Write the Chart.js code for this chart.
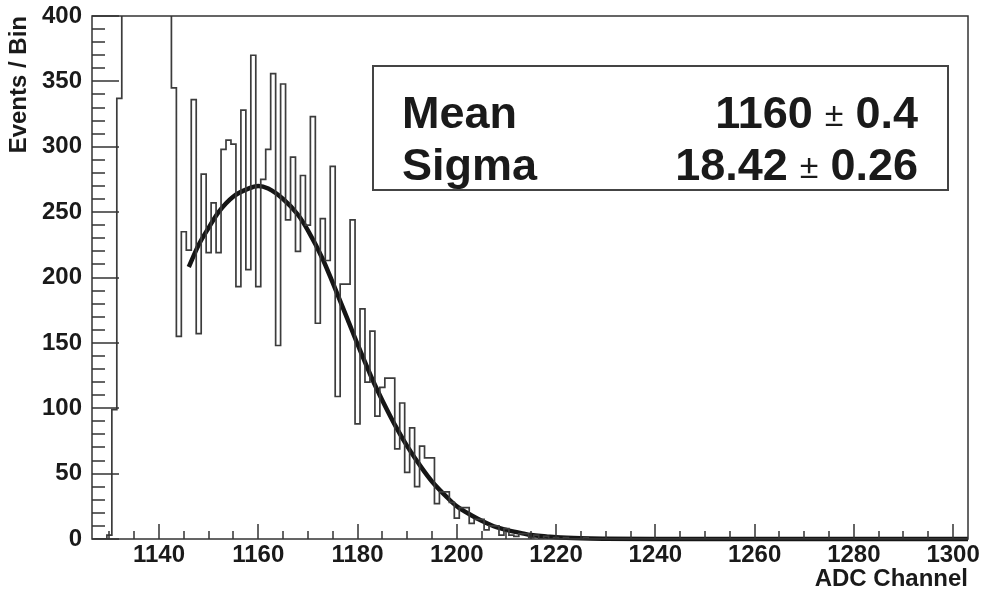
<!DOCTYPE html>
<html>
<head>
<meta charset="utf-8">
<script src="https://cdn.jsdelivr.net/npm/chart.js@4.4.1/dist/chart.umd.min.js"></script>
<style>
  html, body { margin: 0; padding: 0; background: #fff; }
</style>
</head>
<body>
<canvas id="adcChart" width="981" height="594"></canvas>
<script>
// one bin per ADC channel, first bin centred on channel 1127
const firstChannel = 1127;
const counts = [
    0, 0, 0, 3, 99, 337,
    // 1133 - 1142 : above the top of the frame
    450, 520, 590, 640, 660, 640, 600, 550, 500, 430,
    // 1143 ->
    345, 155, 235, 221, 336, 157, 279, 219, 257, 219,
    298, 305, 302, 193, 328, 206, 370, 193, 275, 298,
    356, 148, 348, 244, 292, 220, 278, 240, 323, 165,
    245, 213, 285, 109, 195, 195, 244, 88, 176, 120,
    159, 94, 116, 123, 123, 69, 104, 51, 85, 40,
    71, 62, 62, 27, 36, 36, 28, 16, 24, 24,
    12, 15, 15, 7, 10, 10, 3, 8, 3, 2,
    4, 4, 1, 3, 0, 2, 0, 1,
    // 1221 ->
    0, 1, 0, 0, 0, 1, 0, 0, 0, 0,
    0, 0, 0, 0, 0, 0, 0, 0, 0, 0,
    0, 0, 0, 0, 0, 0, 0, 0, 0, 0,
    0, 0, 0, 0, 0, 0, 0, 0, 0, 0,
    0, 0, 0, 0, 0, 0, 0, 0, 0, 0,
    0, 0, 0, 0, 0, 0, 0, 0, 0, 0,
    0, 0, 0, 0, 0, 0, 0, 0, 0, 0,
    0, 0, 0, 0, 0, 0, 0, 0, 0, 0, 0, 0, 0
];

// gaussian fit curve
const fitChannels = [1146, 1148, 1150, 1152, 1155, 1158, 1160, 1162, 1165, 1168, 1170,
    1173, 1175, 1178, 1180, 1183, 1185, 1188, 1190, 1193, 1195, 1198, 1200, 1203,
    1205, 1208, 1210, 1213, 1215, 1218, 1220, 1225, 1230, 1240, 1260, 1280, 1303];
const fitValues = [208, 225, 238, 250, 262, 268, 270, 268, 260, 248, 236,
    214, 196, 168, 149, 122, 106, 84, 71, 54, 44, 32, 25, 18,
    14, 9, 7, 4.5, 3, 2, 1.3, 0.5, 0.2, 0, 0, 0, 0];

const xTickValues = [1140, 1160, 1180, 1200, 1220, 1240, 1260, 1280, 1300];
const yTickValues = [0, 50, 100, 150, 200, 250, 300, 350, 400];

const statsLabels = ['Mean', 'Sigma'];
const statsValues = ['1160', '18.42'];
const statsErrors = ['0.4', '0.26'];

const FONT = "'Liberation Sans', Helvetica, Arial, sans-serif";

const histPoints = counts.map((c, i) => ({ x: firstChannel + i, y: c }));
const fitPoints = fitChannels.map((ch, i) => ({ x: ch, y: fitValues[i] }));

// cadre + graduations vers l'intérieur (style ROOT)
const frameAndTicks = {
    id: 'frameAndTicks',
    afterDatasetsDraw(chart) {
        const { ctx, chartArea: a, scales: { x, y } } = chart;
        ctx.save();
        ctx.strokeStyle = '#333';
        ctx.lineWidth = 1.5;
        ctx.beginPath();
        for (let v = 0; v <= 400; v += 10) {
            const py = Math.round(y.getPixelForValue(v));
            const len = v % 50 === 0 ? 27 : 13;
            ctx.moveTo(a.left, py);
            ctx.lineTo(a.left + len, py);
        }
        for (let v = 1130; v <= 1300; v += 5) {
            const px = Math.round(x.getPixelForValue(v));
            const len = v % 20 === 0 ? 15 : 8;
            ctx.moveTo(px, a.bottom);
            ctx.lineTo(px, a.bottom - len);
        }
        ctx.stroke();
        ctx.strokeRect(a.left, a.top, a.right - a.left, a.bottom - a.top);
        ctx.restore();
    }
};

// boîte des paramètres du fit (pixels de la figure)
const statsBox = {
    id: 'statsBox',
    afterDraw(chart) {
        const { ctx } = chart;
        const left = 373, right = 948, top = 66, bottom = 190;
        ctx.save();
        ctx.fillStyle = '#fff';
        ctx.fillRect(left, top, right - left, bottom - top);
        ctx.strokeStyle = '#444';
        ctx.lineWidth = 2;
        ctx.strokeRect(left, top, right - left, bottom - top);

        const big = 'bold 45px ' + FONT;
        const pm = '34px ' + FONT;
        ctx.fillStyle = '#1a1a1a';
        ctx.textBaseline = 'alphabetic';
        statsLabels.forEach((label, i) => {
            const base = top + 62 + i * 52;
            ctx.font = big;
            ctx.textAlign = 'left';
            ctx.fillText(label, left + 29, base);
            // droite -> gauche : erreur, ±, valeur
            let xr = right - 30;
            ctx.textAlign = 'right';
            ctx.fillText(statsErrors[i], xr, base);
            xr -= ctx.measureText(statsErrors[i]).width + 12;
            ctx.font = pm;
            ctx.fillText('±', xr, base - 2);
            xr -= ctx.measureText('±').width + 12;
            ctx.font = big;
            ctx.fillText(statsValues[i], xr, base);
        });
        ctx.restore();
    }
};

const ctx = document.getElementById('adcChart').getContext('2d');
new Chart(ctx, {
    type: 'line',
    data: {
        datasets: [{
            label: 'ADC',
            data: histPoints,
            stepped: 'middle',
            borderColor: '#3c3c3c',
            borderWidth: 1.7,
            pointRadius: 0,
            fill: false
        }, {
            label: 'fit',
            data: fitPoints,
            borderColor: '#151515',
            borderWidth: 4.5,
            cubicInterpolationMode: 'monotone',
            pointRadius: 0,
            fill: false,
            clip: 4
        }]
    },
    options: {
        responsive: false,
        animation: false,
        layout: { padding: { left: 0, top: 16, right: 13, bottom: 0 } },
        plugins: {
            legend: { display: false },
            tooltip: { enabled: false }
        },
        scales: {
            x: {
                type: 'linear',
                min: 1126.5,
                max: 1303,
                afterBuildTicks: scale => { scale.ticks = xTickValues.map(v => ({ value: v })); },
                afterFit: scale => {
                    scale.height = 55;
                    scale.paddingLeft = 0;
                    scale.paddingRight = 0;
                },
                grid: { display: false, drawTicks: false },
                border: { display: false },
                ticks: {
                    color: '#1a1a1a',
                    font: { family: FONT, size: 24, weight: 'bold' },
                    padding: 2,
                    maxRotation: 0,
                    autoSkip: false,
                    callback: v => String(v)
                },
                title: {
                    display: true,
                    text: 'ADC Channel',
                    align: 'end',
                    color: '#1a1a1a',
                    font: { family: FONT, size: 24, weight: 'bold' },
                    padding: { top: 0, bottom: 0 }
                }
            },
            y: {
                min: 0,
                max: 400,
                afterBuildTicks: scale => { scale.ticks = yTickValues.map(v => ({ value: v })); },
                afterFit: scale => {
                    scale.width = 92;
                    scale.paddingTop = 0;
                    scale.paddingBottom = 0;
                },
                grid: { display: false, drawTicks: false },
                border: { display: false },
                ticks: {
                    color: '#1a1a1a',
                    font: { family: FONT, size: 24, weight: 'bold' },
                    padding: 10,
                    autoSkip: false,
                    callback: v => String(v)
                },
                title: {
                    display: true,
                    text: 'Events / Bin',
                    align: 'end',
                    color: '#1a1a1a',
                    font: { family: FONT, size: 24, weight: 'bold' },
                    padding: { top: 5, bottom: 0 }
                }
            }
        }
    },
    plugins: [frameAndTicks, statsBox]
});
</script>
</body>
</html>
